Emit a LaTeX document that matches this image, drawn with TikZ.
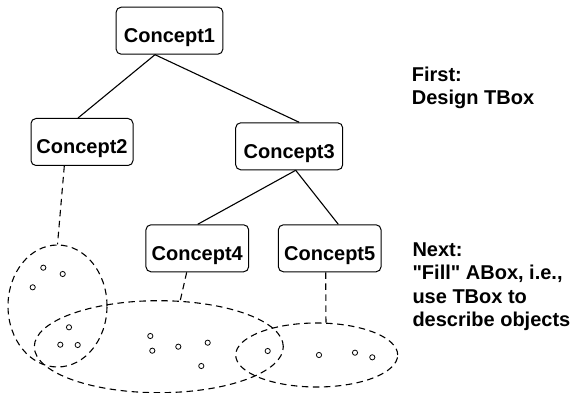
\documentclass[tikz,border=0pt]{standalone}
\usepackage{fontspec}
\setmainfont{Liberation Sans}[Ligatures=TeXOff]
\usetikzlibrary{shapes.geometric}
\begin{document}
\begin{tikzpicture}[x=1pt,y=-1pt,
  concept/.style={draw, line width=1pt, rounded corners=5pt, inner sep=0pt,
    minimum height=47pt, text height=35.5pt, text depth=11.5pt,
    font=\fontsize{20}{23.3}\selectfont\bfseries},
  tree/.style={line width=1.1pt},
  dashline/.style={line width=1.1pt, dash pattern=on 6.5pt off 4.5pt},
  set/.style={draw, ellipse, inner sep=0pt, line width=1.1pt, dash pattern=on 6.5pt off 4.5pt},
  obj/.style={line width=0.8pt},
  note/.style={anchor=base west, inner sep=0pt, font=\fontsize{20}{23.3}\selectfont\bfseries}]
\useasboundingbox (0,0) rectangle (574,393);

\node[concept, minimum width=106.7pt] (c1) at (169.5,30.7) {Concept1};
\node[concept, minimum width=102pt] (c2) at (82,142) {Concept2};
\node[concept, minimum width=107pt] (c3) at (289.2,146.3) {Concept3};
\node[concept, minimum width=102.7pt] (c4) at (197.3,248.3) {Concept4};
\node[concept, minimum width=102.7pt] (c5) at (329.7,248.3) {Concept5};

\draw[tree] ([xshift=-14.5pt]c1.south) -- ([xshift=-4pt]c2.north);
\draw[tree] ([xshift=-14.5pt]c1.south) -- ([xshift=10pt]c3.north);
\draw[tree] ([xshift=6.5pt]c3.south) -- ([xshift=0.4pt]c4.north);
\draw[tree] ([xshift=6.5pt]c3.south) -- ([xshift=8.6pt]c5.north);

\node[set, minimum width=99pt, minimum height=122pt] (e1) at (57.5,306) {};
\node[set, minimum width=249pt, minimum height=92pt] (e2) at (158.8,346.7) {};
\node[set, minimum width=162pt, minimum height=64pt] (e3) at (316.7,355) {};

\draw[dashline] ([xshift=-17.7pt]c2.south) -- (e1.north);
\draw[dashline] ([xshift=-10.6pt]c4.south) -- (e2.65);
\draw[dashline] ([xshift=-4pt]c5.south) -- (e3.74);

\foreach \p in {(43.3,267.7),(62.7,274),(32.7,287.3),
  (69,327.3),(60.3,344.7),(77.7,345),(150.3,336),(152.3,350.7),(178.3,346.7),(207.7,342.7),(201.3,366),
  (267.7,351),(319,355),(355,352.7),(372.3,357.3)}
  \draw[obj] \p circle[radius=2.6pt];

\node[note] (f1) at (411.7,81.7) {First:};
\node[note] (f2) at (411.7,105) {Design TBox};
\node[note] (n1) at (412.3,256.7) {Next:};
\node[note] (n2) at (412.3,280) {"Fill" ABox, i.e.,};
\node[note] (n3) at (412.3,303.3) {use TBox to};
\node[note] (n4) at (412.3,326.7) {describe objects};
\end{tikzpicture}
\end{document}
